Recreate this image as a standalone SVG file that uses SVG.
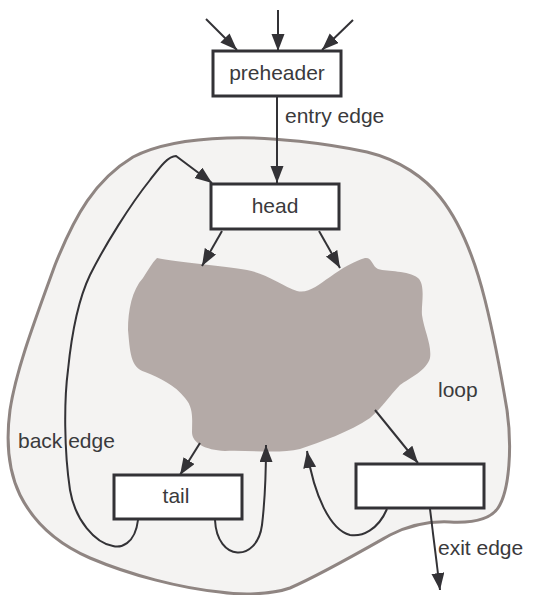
<svg xmlns="http://www.w3.org/2000/svg" width="535" height="595" viewBox="0 0 535 595">
<defs>
<marker id="arr" markerUnits="userSpaceOnUse" markerWidth="18" markerHeight="14" refX="17" refY="6.5" orient="auto">
<path d="M0,0 L17,6.5 L0,13 Z" fill="#333236"/>
</marker>
<style>
.box{fill:#ffffff;stroke:#333236;stroke-width:3}
.edge{fill:none;stroke:#333236;stroke-width:2;marker-end:url(#arr)}
.lbl{font-family:"Liberation Sans",Arial,sans-serif;font-size:21px;fill:#3a3a3c}
</style>
</defs>
<rect width="535" height="595" fill="#ffffff"/>
<g id="loop-region">
<path d="M227,138 C270,136 330,144 367,152 C400,160 425,178 440,197 C460,222 475,260 485,300 C495,340 502,380 507,410 C512,445 510,490 498,508 C490,520 470,523 450,522 C430,521 410,525 390,535 C360,552 320,575 290,588 C270,595 240,595 220,592 C180,588 130,575 90,558 C60,545 35,525 20,495 C8,470 6,440 10,410 C16,370 35,320 55,265 C75,215 95,180 133,157 C160,143 195,139 227,138 Z" fill="#f4f3f2" stroke="#8f8582" stroke-width="3"/>
<text class="lbl" x="438" y="397">loop</text>
</g>
<g id="body">
<path d="M157,258 C175,262 225,266 247,270 C265,273 283,286 297,291 C308,294 318,285 330,277 C342,268 355,261 365,258 C372,257 372,266 378,269 C388,272 408,270 418,278 C426,285 421,305 422,315 C424,330 432,345 430,358 C427,370 410,378 400,385 C390,395 382,408 370,418 C350,432 320,442 300,449 C280,454 250,450 225,451 C205,450 192,443 192,432 C192,420 194,408 185,398 C175,385 160,378 145,372 C130,368 130,350 128,330 C128,310 132,290 143,278 C148,270 152,263 157,258 Z" fill="#b4aaa7"/>
</g>
<g id="connectors">
<path class="edge" d="M278,10 L278,51"/>
<path class="edge" d="M206,19 L237,50"/>
<path class="edge" d="M353,20 L322,50"/>
<path class="edge" d="M277,97 L277,183"/>
<path class="edge" d="M222,231 L202,266"/>
<path class="edge" d="M319,231 L340,268"/>
<path class="edge" d="M200,443 L180,475"/>
<path class="edge" d="M215,520 C217,562 257,563 262,525 C265,500 266,470 266,445"/>
<path class="edge" d="M138,520 C135,545 120,548 113,546 C95,543 75,520 70,490 C64,450 64,400 68,370 C72,330 78,300 90,275 C105,245 130,205 150,180 C160,167 168,156 176,156 L212,183"/>
<path class="edge" d="M375,410 L418,463"/>
<path class="edge" d="M387,509 C378,530 362,537 350,535 C330,530 314,495 307,451"/>
<path class="edge" d="M430,509 L440,590"/>
</g>
<g id="preheader">
<rect class="box" x="213" y="51" width="128" height="45"/>
<text class="lbl" x="277" y="80" text-anchor="middle">preheader</text>
</g>
<text class="lbl" x="285" y="123">entry edge</text>
<g id="head">
<rect class="box" x="211" y="184" width="128" height="45"/>
<text class="lbl" x="275" y="213" text-anchor="middle">head</text>
</g>
<g id="tail">
<rect class="box" x="114" y="475" width="128" height="44"/>
<text class="lbl" x="176" y="503" text-anchor="middle">tail</text>
</g>
<g id="exit-block">
<rect class="box" x="356" y="464" width="128" height="44"/>
</g>
<text class="lbl" x="18" y="448">back edge</text>
<text class="lbl" x="438" y="555">exit edge</text>
</svg>
